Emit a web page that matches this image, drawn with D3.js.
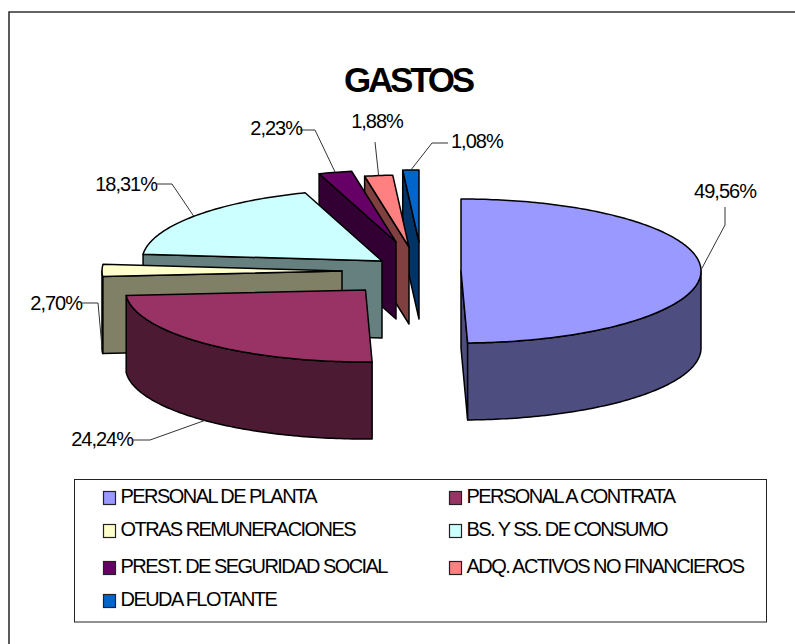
<!DOCTYPE html>
<html><head><meta charset="utf-8">
<script src="https://cdn.jsdelivr.net/npm/d3@7/dist/d3.min.js"></script>
<style>
html,body{margin:0;padding:0;background:#fff}
svg{display:block}
text{font-family:"Liberation Sans",Arial,sans-serif;fill:#000}
</style></head><body>
<script>
// ---- data ----
const categories = ["PERSONAL DE PLANTA","PERSONAL A CONTRATA","OTRAS REMUNERACIONES","BS. Y SS. DE CONSUMO","PREST. DE SEGURIDAD SOCIAL","ADQ. ACTIVOS NO FINANCIEROS","DEUDA FLOTANTE"];
const values = [49.56,24.24,2.70,18.31,2.23,1.88,1.08];
const valueLabels = ["49,56%","24,24%","2,70%","18,31%","2,23%","1,88%","1,08%"];
const title = "GASTOS";

// ---- styles and layout ----
const topColors  = ["#9999FF","#993366","#FFFFCC","#CCFFFF","#660066","#FF8080","#0066CC"];
const sideColors = ["#4D4D80","#4D1A33","#808066","#668080","#330033","#804040","#003366"];
const W=795,H=644, cx=401, cy=271, rx=240, ry=72, depth=77;
// per-slice explosion (px from the pie centre), as in a spreadsheet's point explosion
const explodeX = [60,-35.5,-59,-19,-5,8,18];
const explodeY = [0,19,0,-10,-29,-24,-29];
// label anchors, leader elbows and whether the leader lands at the base of the wall
const labelX = [725,133,82,157,302,377,451];
const labelY = [191,439,303,184,128,121,141];
const labelAnchor = ["middle","end","end","end","end","middle","start"];
const elbowX = [725,150,98,172,315,375,432];
const elbowY = [225,440,303,184,130,142,143];
const startX = [725,133,82,157,300,375,448];
const startY = [207,440,303,184,130,142,143];
const leaderBase = [0,1,1,0,0,0,0];
const legendX = [103.5,449.5], legendY = [498,531,568,601];

const svg=d3.select("body").append("svg").attr("width",W).attr("height",H);
// chart frame: only the top and left edges appear in the picture
svg.append("path").attr("d",d3.line()([[9,H],[9,12],[W,12]])).attr("fill","none").attr("stroke","#333").attr("stroke-width",1.6);

svg.append("text").attr("x",408).attr("y",92).attr("text-anchor","middle")
  .style("font-size","35px").style("font-weight","700").style("letter-spacing","-3.2px").text(title);

const pie=d3.pie().value(d=>d).sort(null);
const arcs=pie(values);
const sx=d3.scaleLinear().domain([-1,1]).range([-rx,rx]);
const sy=d3.scaleLinear().domain([-1,1]).range([ry,-ry]);   // +1 = north, up on screen
const line=d3.line().curve(d3.curveLinear);
const ringPt=(i,a,dz=0)=>[cx+explodeX[i]+sx(Math.sin(a)), cy+explodeY[i]+sy(Math.cos(a))+dz];
const apex=(i,dz=0)=>[cx+explodeX[i], cy+explodeY[i]+dz];
const arcPts=(i,a0,a1,dz=0)=>{const n=Math.max(2,Math.ceil((a1-a0)*60));return d3.range(n+1).map(k=>ringPt(i,a0+(a1-a0)*k/n,dz));};

const gPie=svg.append("g").attr("stroke","#000").attr("stroke-width",1.5).attr("stroke-linejoin","round");
// painter's order: small back slices first
[6,5,4,3,2,1,0].forEach(i=>{
  const {startAngle:a0,endAngle:a1}=arcs[i];
  const g=gPie.append("g");
  // cut faces facing the viewer
  const face=a=>[apex(i),ringPt(i,a),ringPt(i,a,depth),apex(i,depth)];
  if(Math.sin(a0)<-1e-6) g.append("path").attr("d",line(face(a0))+"Z").attr("fill",sideColors[i]);
  if(Math.sin(a1)>1e-6)  g.append("path").attr("d",line(face(a1))+"Z").attr("fill",sideColors[i]);
  // outer wall for the front part of the ellipse
  const f0=Math.max(a0,Math.PI/2), f1=Math.min(a1,Math.PI*1.5);
  if(f1>f0){
    const pts=arcPts(i,f0,f1).concat(arcPts(i,f0,f1,depth).reverse());
    g.append("path").attr("d",line(pts)+"Z").attr("fill",sideColors[i]);
  }
  // top face
  g.append("path").attr("d",line([apex(i)].concat(arcPts(i,a0,a1)))+"Z").attr("fill",topColors[i]);
});

// leaders and value labels
arcs.forEach((d,i)=>{
  const mid=(d.startAngle+d.endAngle)/2;
  const end=ringPt(i,mid,leaderBase[i]?depth:0);
  svg.append("path").attr("d",line([[startX[i],startY[i]],[elbowX[i],elbowY[i]],end]))
    .attr("fill","none").attr("stroke","#333").attr("stroke-width",1);
  svg.append("text").attr("x",labelX[i]).attr("y",labelY[i]+7).attr("text-anchor",labelAnchor[i])
    .style("font-size","20px").style("letter-spacing","-1px").text(valueLabels[i]);
});

// legend
svg.append("rect").attr("x",74.5).attr("y",479.5).attr("width",692).attr("height",142.5).attr("fill","#fff").attr("stroke","#222").attr("stroke-width",1);
categories.forEach((c,i)=>{
  const x=legendX[i%2], y=legendY[Math.floor(i/2)];
  svg.append("rect").attr("x",x).attr("y",y-6.5).attr("width",12).attr("height",13).attr("fill",topColors[i]).attr("stroke","#222").attr("stroke-width",1.2);
  svg.append("text").attr("x",x+17).attr("y",y+5).style("font-size","20px").style("letter-spacing","-1.55px").text(c);
});
</script></body></html>
